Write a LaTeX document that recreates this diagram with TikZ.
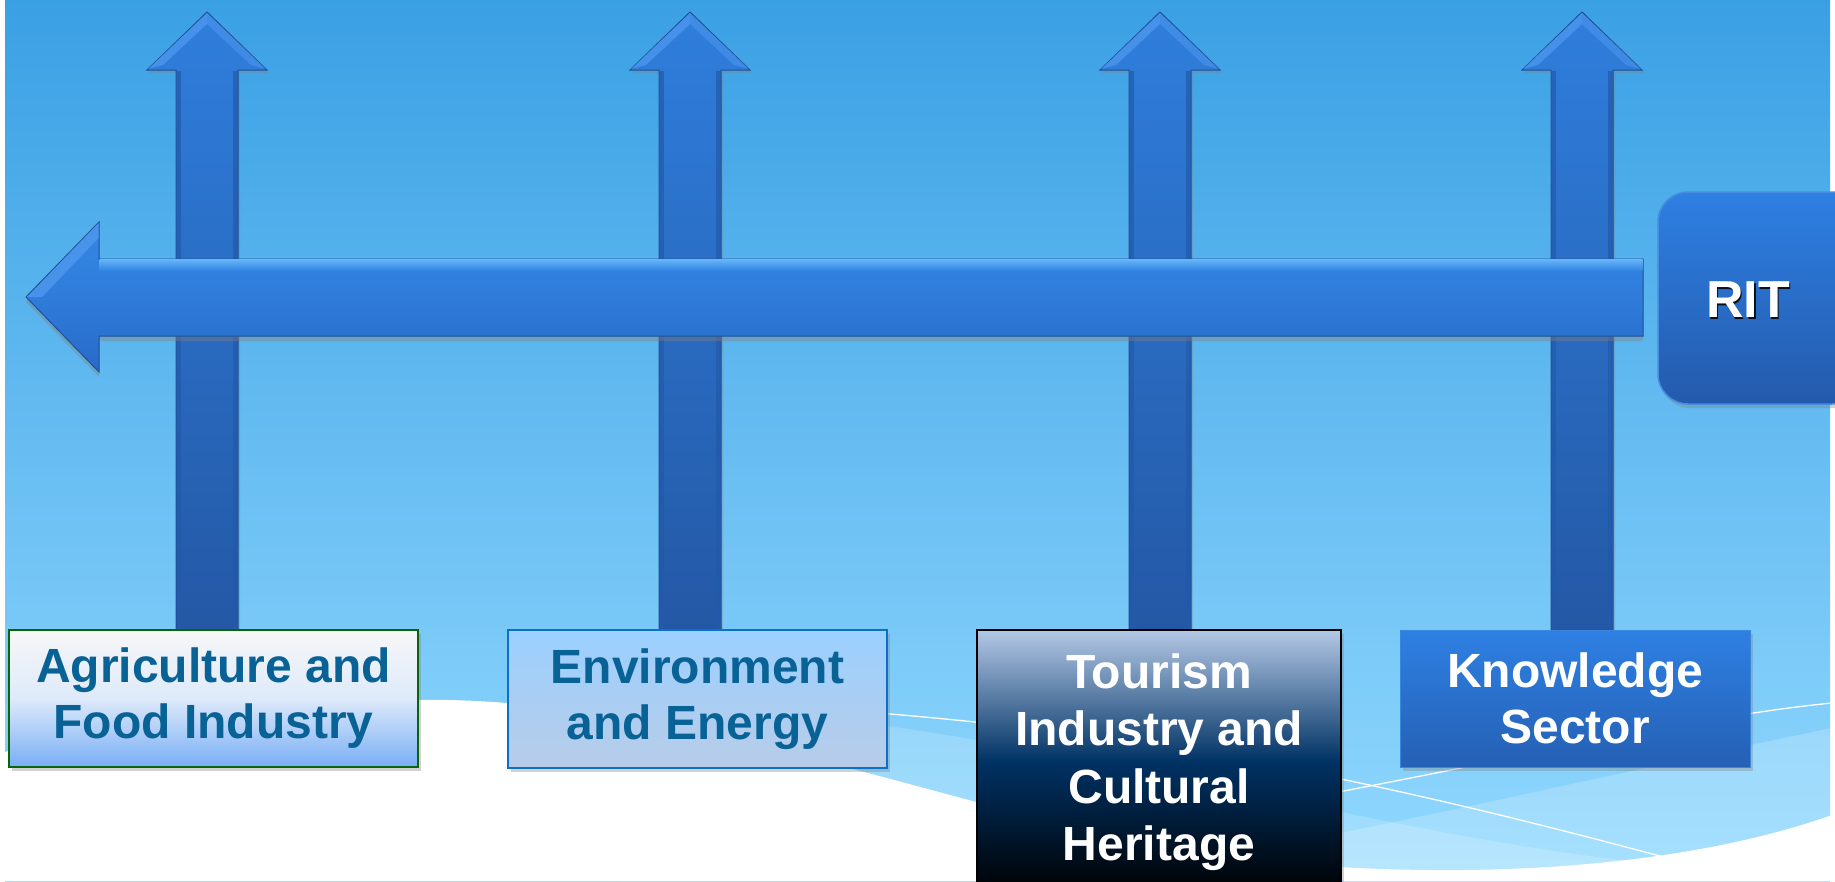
\documentclass[tikz,border=0pt]{standalone}
\usepackage{fontspec}
\setmainfont{Liberation Sans}
\usetikzlibrary{shadows}
\definecolor{bgtop}{RGB}{58,160,228}
\definecolor{bgbot}{RGB}{146,217,255}
\definecolor{arrtop}{RGB}{47,126,221}
\definecolor{arrbot}{RGB}{36,88,165}
\definecolor{arredge}{RGB}{30,80,150}
\definecolor{bevel}{RGB}{78,152,238}
\definecolor{shaftedge}{RGB}{34,90,170}
\definecolor{hatop}{RGB}{52,135,228}
\definecolor{hamid}{RGB}{47,124,219}
\definecolor{habot}{RGB}{40,106,200}
\definecolor{hahl}{RGB}{100,180,248}
\definecolor{tealtext}{RGB}{8,98,150}
\definecolor{agtop}{RGB}{247,247,247}
\definecolor{agmid}{RGB}{222,234,250}
\definecolor{agbot}{RGB}{120,174,245}
\definecolor{agedge}{RGB}{10,100,10}
\definecolor{entop}{RGB}{155,208,255}
\definecolor{enbot}{RGB}{184,204,232}
\definecolor{enedge}{RGB}{12,112,200}
\definecolor{tutop}{RGB}{180,200,230}
\definecolor{tumid}{RGB}{0,50,100}
\definecolor{tubot}{RGB}{0,0,0}
\definecolor{kntop}{RGB}{46,128,227}
\definecolor{knbot}{RGB}{37,96,180}
\definecolor{knedge}{RGB}{55,135,225}
\definecolor{ritedge}{RGB}{70,140,225}
\definecolor{ritbot}{RGB}{36,90,172}
\begin{document}
\begin{tikzpicture}[x=1pt,y=-1pt,
  varrow/.style={top color=arrtop, bottom color=arrbot, draw=arredge, line width=1pt,
    drop shadow={opacity=0.3, shadow xshift=2pt, shadow yshift=-3pt}},
  harrow/.style={top color=hatop, bottom color=habot, middle color=hamid, draw=arredge, line width=1pt,
    drop shadow={opacity=0.4, shadow xshift=0pt, shadow yshift=-5pt}},
  boxbase/.style={rectangle, inner sep=0pt, align=center, line width=2pt,
    font=\bfseries\fontsize{48}{56}\selectfont,
    drop shadow={opacity=0.35, shadow xshift=3pt, shadow yshift=-4pt}},
  agbox/.style={boxbase, top color=agtop, bottom color=agbot, middle color=agmid, draw=agedge,
    text=tealtext, minimum width=409pt, minimum height=137pt},
  enbox/.style={boxbase, top color=entop, bottom color=enbot, draw=enedge,
    text=tealtext, minimum width=379pt, minimum height=138pt},
  tubox/.style={boxbase, top color=tutop, bottom color=tubot, middle color=tumid, draw=black,
    text=white, minimum width=364pt, minimum height=264pt,
    font=\bfseries\fontsize{48}{57.5}\selectfont},
  knbox/.style={boxbase, top color=kntop, bottom color=knbot, draw=knedge, line width=1pt,
    text=white, minimum width=350pt, minimum height=137pt},
  ritbox/.style={rectangle, rounded corners=30pt, top color=kntop, bottom color=ritbot,
    draw=ritedge, line width=1.5pt, minimum width=204pt, minimum height=212pt,
    drop shadow={opacity=0.35, shadow xshift=2pt, shadow yshift=-4pt}},
  rittext/.style={inner sep=0pt, font=\bfseries\fontsize{52}{60}\selectfont},
  thinline/.style={draw=white, line width=1.3pt}
]
\useasboundingbox (0,0) rectangle (1835,881);
\clip (0,0) rectangle (1835,881);
\fill[white] (0,0) rectangle (1835,881);
% background gradient
\shade[top color=bgtop, bottom color=bgbot] (5,0) rectangle (1830,881);
% light bands
\fill[white, opacity=0.18] (620,702) .. controls (850,712) and (1000,740) .. (1341,812)
  .. controls (1500,845) and (1600,860) .. (1720,870) -- (1720,881) -- (620,881) -- cycle;
\fill[white, opacity=0.2] (1000,900) -- (1341,833) .. controls (1550,790) and (1700,755) .. (1832,728)
  -- (1832,900) -- cycle;
% thin white lines
\draw[thinline] (700,702) .. controls (1000,715) and (1200,750) .. (1341,779)
  .. controls (1480,808) and (1600,840) .. (1690,864);
\draw[thinline] (1250,808) .. controls (1480,768) and (1680,718) .. (1832,703);
% white wave
\fill[white] (5,752) .. controls (150,712) and (300,698) .. (450,700)
  .. controls (650,705) and (850,770) .. (1100,835)
  .. controls (1300,880) and (1620,890) .. (1832,815) -- (1835,881) -- (0,881) -- cycle;
% vertical arrows
\foreach \cx in {207,690,1160,1582} {
  \path[varrow] (\cx-31,632) -- (\cx-31,70) -- (\cx-60,70) -- (\cx,12) -- (\cx+60,70)
    -- (\cx+31,70) -- (\cx+31,632) -- cycle;
  \fill[bevel, opacity=0.75] (\cx,13) -- (\cx-59,69) -- (\cx-44,65) -- (\cx,24) -- cycle;
  \fill[bevel, opacity=0.55] (\cx,13) -- (\cx+59,69) -- (\cx+44,65) -- (\cx,24) -- cycle;
  \fill[shaftedge, opacity=0.7] (\cx-30.5,71) rectangle (\cx-26,631);
  \fill[shaftedge, opacity=0.7] (\cx+26,71) rectangle (\cx+30.5,631);
}
% horizontal arrow
\path[harrow] (1643,259) -- (99,259) -- (99,222) -- (26,297) -- (99,372) -- (99,336)
  -- (1643,336) -- cycle;
\shade[top color=hahl, bottom color=hatop] (99.5,259.5) rectangle (1642.5,270);
\fill[bevel, opacity=0.8] (27,297) -- (98.5,223) -- (98.5,238) -- (42,297) -- cycle;
% boxes
\node[agbox] (agri) at (213.5,698.5) {Agriculture and\\Food Industry};
\node[enbox] (env) at (697.5,699) {Environment\\and Energy};
\node[tubox] (tour) at (1159,762) {Tourism\\Industry and\\Cultural\\Heritage};
\node[knbox] (know) at (1575,698.5) {Knowledge\\Sector};
% RIT box
\node[ritbox] (rit) at (1760,298) {};
\node[rittext, text=black, opacity=0.85] (ritshadow) at (1749.8,302) {RIT};
\node[rittext, text=white] (rittext) at (1748,300) {RIT};
\end{tikzpicture}
\end{document}
